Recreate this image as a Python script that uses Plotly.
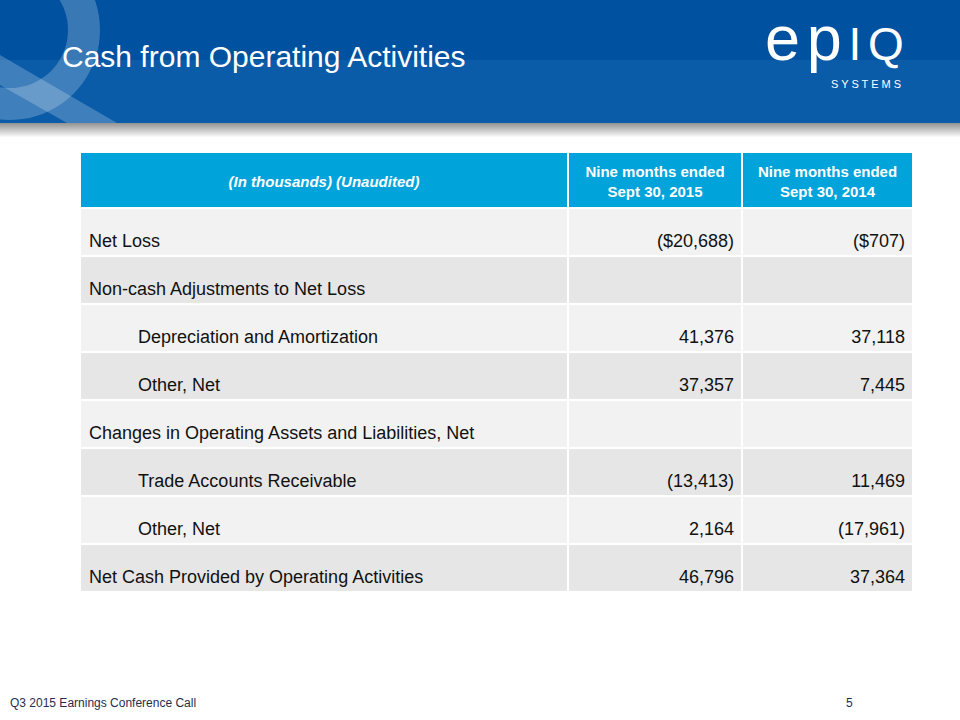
import numpy as np
import plotly.graph_objects as go

# ---------------- data ----------------
title_text = "Cash from Operating Activities"
header_labels = ["<b><i>(In thousands) (Unaudited)</i></b>",
                 "<b>Nine months ended<br>Sept 30, 2015</b>",
                 "<b>Nine months ended<br>Sept 30, 2014</b>"]
row_labels = ["Net Loss",
              "Non-cash Adjustments to Net Loss",
              "Depreciation and Amortization",
              "Other, Net",
              "Changes in Operating Assets and Liabilities, Net",
              "Trade Accounts Receivable",
              "Other, Net",
              "Net Cash Provided by Operating Activities"]
row_indent = [0, 0, 1, 1, 0, 1, 1, 0]
row_dollar = [1, 0, 0, 0, 0, 0, 0, 0]
values_2015 = [-20688, None, 41376, 37357, None, -13413, 2164, 46796]
values_2014 = [-707, None, 37118, 7445, None, 11469, -17961, 37364]
footer_text = "Q3 2015 Earnings Conference Call"
page_number = "5"


def fmt(v, dollar):
    if v is None:
        return ""
    s = f"{abs(v):,}"
    if dollar:
        s = "$" + s
    return f"({s})" if v < 0 else s


# ---------------- layout constants ----------------
W, H = 960, 720
col_edges = [80, 568, 742, 913]
header_top, header_h, row_h = 152, 56, 48
row_edges = [header_top, header_top + header_h] + [header_top + header_h + row_h * (i + 1) for i in range(len(row_labels))]
band_h = 123
font = "Liberation Sans, Arial, sans-serif"

fig = go.Figure()

# cell backgrounds
z = [[2, 2, 2]] + [[i % 2] * 3 for i in range(len(row_labels))]
fig.add_trace(go.Heatmap(
    x=col_edges, y=row_edges, z=z, zmin=0, zmax=2,
    colorscale=[[0, "#F2F2F2"], [0.5, "#E6E6E6"], [1, "#00A3DA"]],
    showscale=False, xgap=2, ygap=2, hoverinfo="skip"))

row_mid = [(row_edges[i + 1] + row_edges[i + 2]) / 2 + 10 for i in range(len(row_labels))]
head_mid = (row_edges[0] + row_edges[1]) / 2 + 3
col_mid = [(col_edges[i] + col_edges[i + 1]) / 2 for i in range(3)]

# header texts
fig.add_trace(go.Scatter(
    x=col_mid, y=[head_mid] * 3, mode="text", text=header_labels,
    textposition="middle center", marker=dict(size=0),
    textfont=dict(family=font, size=15, color="white"), hoverinfo="skip"))

# row labels
fig.add_trace(go.Scatter(
    x=[col_edges[0] + 9 + 49 * ind for ind in row_indent], y=row_mid, mode="text",
    text=row_labels, textposition="middle right", marker=dict(size=0),
    textfont=dict(family=font, size=18, color="#111111"), hoverinfo="skip"))

# values
for ci, vals in ((1, values_2015), (2, values_2014)):
    fig.add_trace(go.Scatter(
        x=[col_edges[ci + 1] - 8] * len(vals), y=row_mid, mode="text",
        text=[fmt(v, d) for v, d in zip(vals, row_dollar)],
        textposition="middle left", marker=dict(size=0),
        textfont=dict(family=font, size=18, color="#111111"), hoverinfo="skip"))

# ---------------- decorations ----------------
shapes = []
shapes.append(dict(type="rect", x0=0, x1=W, y0=0, y1=band_h, fillcolor="#0052A0", line_width=0, layer="below"))
shapes.append(dict(type="rect", x0=0, x1=W, y0=60, y1=band_h, fillcolor="#0A5BA8", line_width=0, layer="below"))
# shadow under band
for k in range(14):
    g = int(150 + k * 105 / 14)
    shapes.append(dict(type="rect", x0=0, x1=W, y0=band_h + k, y1=band_h + k + 1,
                       fillcolor=f"rgb({g},{g},{g})", line_width=0, layer="below"))

# Q ring watermark
cx, cy, ro, ri = 10, 30, 90, 58
t = np.linspace(0, 2 * np.pi, 80)
outer = " L ".join(f"{cx + ro * np.cos(a):.1f},{cy + ro * np.sin(a):.1f}" for a in t)
inner = " L ".join(f"{cx + ri * np.cos(a):.1f},{cy + ri * np.sin(a):.1f}" for a in t[::-1])
shapes.append(dict(type="path", path=f"M {outer} Z M {inner} Z",
                   fillcolor="rgba(255,255,255,0.22)", line_width=0, layer="below"))
shapes.append(dict(type="path", path="M 0,55 L 117,123 L 67,123 L 0,85 Z",
                   fillcolor="rgba(255,255,255,0.22)", line_width=0, layer="below"))

sp = "<span style='font-size:24px'> </span>"
logo = "e" + sp + "p" + sp + "<span style='font-size:46px'>I</span>" + sp + "<span style='font-size:46px'>Q</span>"

annotations = [
    dict(x=60, y=56, text=title_text, showarrow=False, xanchor="left", yanchor="middle",
         font=dict(family=font, size=30, color="white")),
    dict(x=763, y=38, text=logo, showarrow=False,
         xanchor="left", yanchor="middle", font=dict(family=font, size=63, color="white")),
    dict(x=903, y=84, text="S Y S T E M S", showarrow=False, xanchor="right", yanchor="middle",
         font=dict(family=font, size=11, color="white")),
    dict(x=8, y=703, text=footer_text, showarrow=False, xanchor="left", yanchor="middle",
         font=dict(family=font, size=12, color="#1F2D4E")),
    dict(x=849, y=703, text=page_number, showarrow=False, xanchor="center", yanchor="middle",
         font=dict(family=font, size=12, color="#1F2D4E")),
]

fig.update_layout(
    width=W, height=H, margin=dict(l=0, r=0, t=0, b=0),
    paper_bgcolor="white", plot_bgcolor="white", showlegend=False,
    xaxis=dict(range=[0, W], visible=False, fixedrange=True),
    yaxis=dict(range=[H, 0], visible=False, fixedrange=True),
    shapes=shapes, annotations=annotations)

fig.write_html("out.html", config={"displayModeBar": False},
               post_script="document.body.style.margin='0';document.body.style.overflow='hidden';")
